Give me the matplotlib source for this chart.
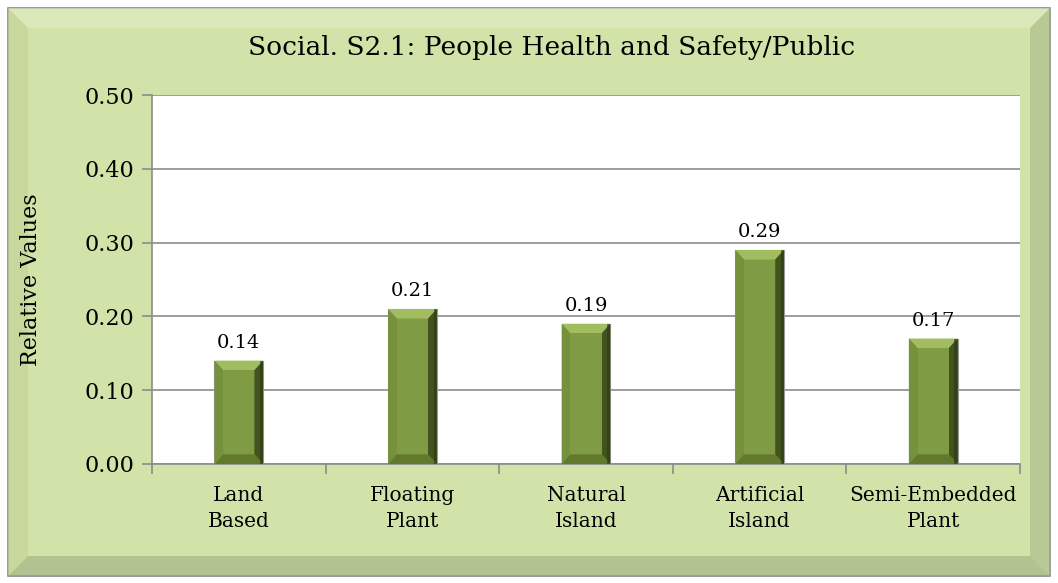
"""
Social S2.1 bar chart: People Health and Safety/Public
"""

import matplotlib.pyplot as plt
from matplotlib.patches import Rectangle, Polygon
import numpy as np

categories = ["Land\nBased", "Floating\nPlant", "Natural\nIsland", "Artificial\nIsland", "Semi-Embedded\nPlant"]
values = [0.14, 0.21, 0.19, 0.29, 0.17]
yticks = [0.0, 0.1, 0.2, 0.3, 0.4, 0.5]

plt.rcParams["font.family"] = ["DejaVu Serif"]

fig = plt.figure(figsize=(10.58, 5.83), dpi=100)
fig.patch.set_facecolor("white")

# outer beveled panel
W, H = 1058, 583
def fx(px):
    return px / W
def fy(py):
    return 1 - py / H

panel = "#D2E3A9"
fig.patches.append(Rectangle((fx(8), fy(576)), fx(1050) - fx(8), fy(8) - fy(576),
                             transform=fig.transFigure, facecolor=panel,
                             edgecolor="#8A8A8A", linewidth=1.2, zorder=-5))
b = 20
outer = [(8, 8), (1050, 8), (1050, 576), (8, 576)]
inner = [(8 + b, 8 + b), (1050 - b, 8 + b), (1050 - b, 576 - b), (8 + b, 576 - b)]
bevel_cols = ["#E2EDC6", "#A9B88A", "#9DAC80", "#C2D296"]  # top, right, bottom, left
for i in range(4):
    pts = [outer[i], outer[(i + 1) % 4], inner[(i + 1) % 4], inner[i]]
    pts = [(fx(x), fy(y)) for x, y in pts]
    fig.patches.append(Polygon(pts, closed=True, transform=fig.transFigure,
                               facecolor=bevel_cols[i], edgecolor="none", zorder=-4, alpha=0.6))
fig.patches.append(Rectangle((fx(8 + b), fy(576 - b)), fx(1050 - b) - fx(8 + b), fy(8 + b) - fy(576 - b),
                             transform=fig.transFigure, facecolor=panel,
                             edgecolor="none", zorder=-3))

ax = fig.add_axes([fx(152), fy(464), fx(1020) - fx(152), fy(95) - fy(464)])
ax.set_zorder(2)
ax.set_facecolor("white")

x = np.arange(len(categories))
bw = 0.28
bx = 0.05
by = 0.013
for xi, v in zip(x, values):
    l, r = xi - bw / 2, xi + bw / 2
    ax.add_patch(Rectangle((l, 0), bw, v, facecolor="#7B9640", edgecolor="#9A9A9A",
                           linewidth=0.8, zorder=3))
    # bevel faces
    faces = [
        ([(l, v), (r, v), (r - bx, v - by), (l + bx, v - by)], "#A2BD60"),
        ([(l, 0), (l, v), (l + bx, v - by), (l + bx, by)], "#76913C"),
        ([(r, 0), (r, v), (r - bx, v - by), (r - bx, by)], "#425320"),
        ([(l, 0), (r, 0), (r - bx, by), (l + bx, by)], "#62782C"),
    ]
    for pts, c in faces:
        ax.add_patch(Polygon(pts, closed=True, facecolor=c, edgecolor="none", zorder=4))
    ax.add_patch(Rectangle((l + bx, by), bw - 2 * bx, v - 2 * by, facecolor="#7F9B44",
                           edgecolor="none", zorder=4))
    # darker strip along the right edge
    ax.add_patch(Rectangle((r - 0.018, 0), 0.018, v, facecolor="#2C3812",
                           edgecolor="none", alpha=0.6, zorder=4))
    ax.text(xi, v + 0.012, f"{v:.2f}", ha="center", va="bottom", fontsize=14, zorder=5)

ax.set_xlim(-0.5, len(categories) - 0.5)
ax.set_ylim(0, 0.5)
ax.set_yticks(yticks)
ax.set_yticklabels([f"{t:.2f}" for t in yticks], fontsize=16)
ax.yaxis.grid(True, color="#8C8C8C", linewidth=1.2, zorder=1)
ax.set_axisbelow(True)

ax.set_xticks(np.arange(len(categories) + 1) - 0.5)
ax.set_xticklabels([])
ax.set_xticks(x, minor=True)
ax.set_xticklabels(categories, minor=True, fontsize=14.5, linespacing=1.45)
ax.tick_params(axis="x", which="minor", length=0, pad=16)
ax.tick_params(axis="x", which="major", length=7, color="#8C8C8C", width=1.2)
ax.tick_params(axis="y", length=7, color="#8C8C8C", width=1.2, pad=6)

for s in ["top", "right"]:
    ax.spines[s].set_visible(False)
for s in ["left", "bottom"]:
    ax.spines[s].set_color("#8C8C8C")
    ax.spines[s].set_linewidth(1.2)

ax.set_ylabel("Relative Values", fontsize=16, labelpad=30)
fig.text(fx(552), fy(48), "Social. S2.1: People Health and Safety/Public",
         ha="center", va="center", fontsize=19)

plt.savefig("out.png", dpi=100)
